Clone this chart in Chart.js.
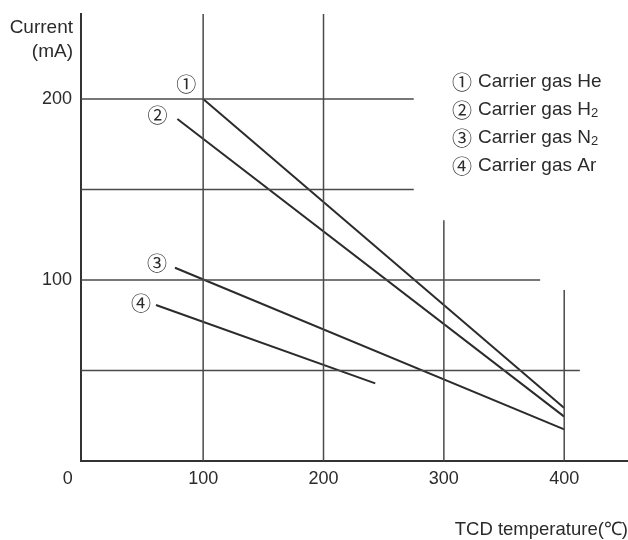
<!DOCTYPE html>
<html>
<head>
<meta charset="utf-8">
<script src="https://cdn.jsdelivr.net/npm/chart.js@4/dist/chart.umd.min.js"></script>
<style>
  html, body { margin: 0; padding: 0; background: #fff; }
  canvas { display: block; }
</style>
</head>
<body>
<canvas id="chart-tcd" width="628" height="540"></canvas>
<script>
// Tick labels on both axes
const tempTicks = [100, 200, 300, 400];
const currentTicks = [100, 200];

// Carrier gases (legend order) and circled markers
const gasMarks = ['①', '②', '③', '④'];
const gasNames = ['Carrier gas He', 'Carrier gas H', 'Carrier gas N', 'Carrier gas Ar'];
const gasSubs = ['', '2', '2', ''];

// Max current vs TCD temperature, start and end of each line
const heTemp = [100, 400];
const heCurrent = [200, 29.3];
const h2Temp = [78.6, 400];
const h2Current = [189, 24.5];
const n2Temp = [76.6, 400];
const n2Current = [106.8, 17.5];
const arTemp = [60.8, 243];
const arCurrent = [86.2, 42.9];

// Reference grid: horizontal rows (current, temperature where they stop)
const rowCurrents = [200, 150, 100, 50];
const rowEnds = [275, 275, 380, 413];
// vertical columns (temperature, current where they stop)
const colTemps = [100, 200, 300, 400];
const colTops = [247, 247, 133, 94.5];

const ink = '#2b2b2b';
const gridInk = '#4a4a4a';
const font = "'Liberation Sans', Arial, sans-serif";
const markFont = "20px 'Noto Sans CJK JP', sans-serif";

function pts(xs, ys) {
  return xs.map((x, i) => ({ x: x, y: ys[i] }));
}

const gridSets = [];
rowCurrents.forEach((c, i) => {
  gridSets.push({ data: [{ x: -2, y: c }, { x: rowEnds[i], y: c }], borderColor: gridInk, borderWidth: 1.5 });
});
colTemps.forEach((t, i) => {
  gridSets.push({ data: [{ x: t, y: 0 }, { x: t, y: colTops[i] }], borderColor: gridInk, borderWidth: 1.5 });
});

const gasSets = [
  pts(heTemp, heCurrent),
  pts(h2Temp, h2Current),
  pts(n2Temp, n2Current),
  pts(arTemp, arCurrent)
].map(d => ({ data: d, borderColor: ink, borderWidth: 2 }));

// Offsets of circled markers from the start of each line
const markOffsets = [[-17, -15], [-20, -4], [-18, -4], [-15, -2]];

const annotations = {
  id: 'annotations',
  afterDatasetsDraw(chart) {
    const ctx = chart.ctx;
    const xs = chart.scales.x;
    ctx.save();
    ctx.fillStyle = ink;
    ctx.textBaseline = 'middle';

    // circled markers next to each line
    ctx.font = markFont;
    ctx.textAlign = 'center';
    gasMarks.forEach((m, i) => {
      const p = chart.getDatasetMeta(gridSets.length + i).data[0];
      ctx.fillText(m, p.x + markOffsets[i][0], p.y + markOffsets[i][1]);
    });

    // legend block
    gasNames.forEach((name, i) => {
      const y = 82 + i * 28;
      ctx.textAlign = 'center';
      ctx.font = markFont;
      ctx.fillText(gasMarks[i], 462, y);
      ctx.textAlign = 'left';
      ctx.font = '19px ' + font;
      ctx.fillText(name, 478, y);
      if (gasSubs[i]) {
        const w = ctx.measureText(name).width;
        ctx.font = '13px ' + font;
        ctx.textBaseline = 'alphabetic';
        ctx.fillText(gasSubs[i], 478 + w, y + 7);
        ctx.textBaseline = 'middle';
      }
    });

    // axis titles and the shared origin label
    ctx.font = '19px ' + font;
    ctx.textAlign = 'right';
    ctx.fillText('Current', 73, 28);
    ctx.fillText('(mA)', 73, 52);
    ctx.font = '18.5px ' + font;
    ctx.fillText('TCD temperature(℃)', 628, 530);
    ctx.textAlign = 'center';
    ctx.font = '18px ' + font;
    ctx.fillText('0', xs.getPixelForValue(0) - 15, 479);
    ctx.restore();
  }
};

new Chart(document.getElementById('chart-tcd'), {
  type: 'scatter',
  data: { datasets: gridSets.concat(gasSets) },
  options: {
    responsive: false,
    animation: false,
    showLine: true,
    layout: { padding: { top: 14, right: 0, left: 0, bottom: 0 } },
    elements: { point: { radius: 0, hoverRadius: 0 }, line: { tension: 0 } },
    plugins: { legend: { display: false }, tooltip: { enabled: false } },
    scales: {
      x: {
        type: 'linear',
        min: -1.5,
        max: 453,
        afterBuildTicks: s => { s.ticks = tempTicks.map(v => ({ value: v })); },
        afterFit: s => { s.height = 79; s.paddingLeft = 0; s.paddingRight = 0; },
        grid: { display: false, drawTicks: false },
        border: { display: true, color: '#333', width: 2 },
        ticks: { color: ink, padding: 7, font: { family: font, size: 18 }, maxRotation: 0 }
      },
      y: {
        type: 'linear',
        min: 0,
        max: 247,
        afterBuildTicks: s => { s.ticks = currentTicks.map(v => ({ value: v })); },
        afterFit: s => { s.width = 81; s.paddingTop = 0; s.paddingBottom = 0; },
        grid: { display: false, drawTicks: false },
        border: { display: true, color: '#333', width: 2 },
        ticks: { color: ink, padding: 9, font: { family: font, size: 18 } }
      }
    }
  },
  plugins: [annotations]
});
</script>
</body>
</html>
